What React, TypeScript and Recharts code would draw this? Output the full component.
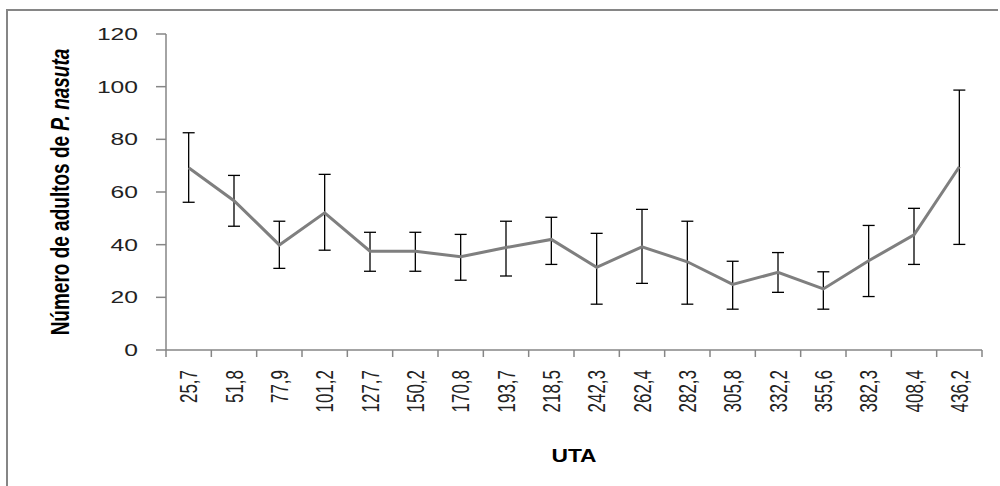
import React from 'react';
import { LineChart, Line, XAxis, YAxis, ErrorBar, Label } from 'recharts';

const utaLabels = ['25,7','51,8','77,9','101,2','127,7','150,2','170,8','193,7','218,5','242,3','262,4','282,3','305,8','332,2','355,6','382,3','408,4','436,2'];
const meanValues = [69.2, 56.7, 39.9, 52.1, 37.5, 37.5, 35.4, 38.9, 42.0, 31.4, 39.2, 33.5, 24.9, 29.5, 23.2, 33.9, 43.7, 69.6];
const upperValues = [82.5, 66.3, 48.9, 66.7, 44.7, 44.7, 43.9, 48.9, 50.4, 44.3, 53.4, 48.9, 33.7, 37.0, 29.7, 47.3, 53.8, 98.7];
const lowerValues = [56.1, 47.0, 31.0, 37.9, 29.9, 29.9, 26.5, 28.1, 32.5, 17.4, 25.3, 17.4, 15.5, 21.9, 15.5, 20.3, 32.5, 40.1];
const yTicks = [0, 20, 40, 60, 80, 100, 120];

const data = utaLabels.map((uta, i) => ({
  uta,
  mean: meanValues[i],
  err: [meanValues[i] - lowerValues[i], upperValues[i] - meanValues[i]],
}));

const AXIS = '#868686';
const FONT = '"Liberation Sans", Arial, sans-serif';

const YTick = (props: any) => {
  const { x, y, payload } = props;
  return (
    <text
      transform={`translate(${x},${y}) scale(1.45,1)`}
      textAnchor="end"
      dominantBaseline="central"
      fontSize={17}
      fontFamily={FONT}
      fill="#222"
    >
      {payload.value}
    </text>
  );
};

const XTick = (props: any) => {
  const { x, y, payload, index } = props;
  const off = payload.offset ?? 0;
  const last = index === utaLabels.length - 1;
  return (
    <g>
      <line x1={x - off} y1={y} x2={x - off} y2={y + 7} stroke={AXIS} strokeWidth={1.5} />
      {last && <line x1={x + off} y1={y} x2={x + off} y2={y + 7} stroke={AXIS} strokeWidth={1.5} />}
      <text
        transform={`translate(${x},${y + 20}) scale(1.45,1) rotate(-90)`}
        textAnchor="end"
        dominantBaseline="central"
        fontSize={17}
        fontFamily={FONT}
        fill="#222"
      >
        {payload.value}
      </text>
    </g>
  );
};

const YLabel = (props: any) => {
  const vb = props.viewBox || {};
  const cx = vb.x - 46;
  const cy = vb.y + vb.height / 2;
  return (
    <text
      transform={`translate(${cx},${cy}) scale(1.35,1) rotate(-90)`}
      textAnchor="middle"
      dominantBaseline="central"
      fontSize={19}
      fontWeight="bold"
      fontFamily={FONT}
      fill="#000"
    >
      Número de adultos de <tspan fontStyle="italic">P. nasuta</tspan>
    </text>
  );
};

const XLabel = (props: any) => {
  const vb = props.viewBox || {};
  const cx = vb.x + vb.width / 2;
  const cy = 455;
  return (
    <text
      transform={`translate(${cx},${cy}) scale(1.2,1)`}
      textAnchor="middle"
      dominantBaseline="central"
      fontSize={19}
      fontWeight="bold"
      fontFamily={FONT}
      fill="#000"
    >
      UTA
    </text>
  );
};

export default function App() {
  return (
    <div style={{ position: 'absolute', left: 0, top: 0, width: 1000, height: 486, overflow: 'hidden', background: '#fff' }}>
      <div
        style={{
          position: 'absolute',
          left: 6,
          top: 9,
          width: 992,
          height: 477,
          borderTop: `2px solid ${AXIS}`,
          borderLeft: `2px solid ${AXIS}`,
          boxSizing: 'border-box',
        }}
      />
      <div style={{ position: 'absolute', left: 0, top: 0 }}>
        <LineChart width={1000} height={486} data={data} margin={{ top: 34, right: 18, left: 106, bottom: 56 }}>
          <XAxis
            dataKey="uta"
            scale="band"
            height={80}
            axisLine={{ stroke: AXIS, strokeWidth: 1.5 }}
            tickLine={false}
            tickSize={0}
            tickMargin={0}
            interval={0}
            tick={<XTick />}
          >
            <Label content={<XLabel />} />
          </XAxis>
          <YAxis
            width={60}
            domain={[0, 120]}
            ticks={yTicks}
            interval={0}
            axisLine={{ stroke: AXIS, strokeWidth: 1.5 }}
            tickLine={{ stroke: AXIS, strokeWidth: 1.5 }}
            tickSize={10}
            tickMargin={18}
            tick={<YTick />}
          >
            <Label content={<YLabel />} />
          </YAxis>
          <Line
            type="linear"
            dataKey="mean"
            stroke="#7f7f7f"
            strokeWidth={3}
            dot={false}
            activeDot={false}
            isAnimationActive={false}
          >
            <ErrorBar dataKey="err" direction="y" width={6} stroke="#000" strokeWidth={1.3} />
          </Line>
        </LineChart>
      </div>
    </div>
  );
}
